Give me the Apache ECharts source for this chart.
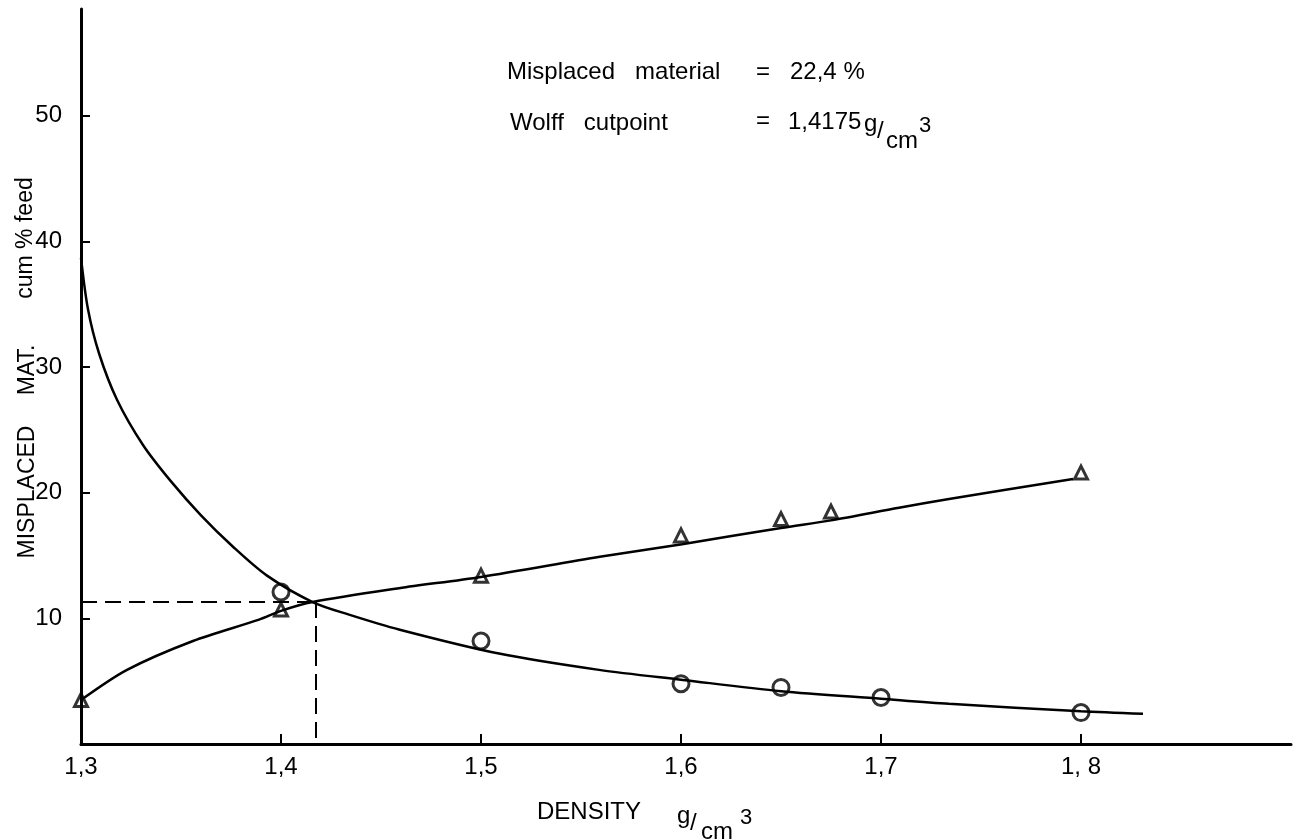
<!DOCTYPE html>
<html>
<head>
<meta charset="utf-8">
<script src="https://cdn.jsdelivr.net/npm/echarts@6/dist/echarts.min.js"></script>
<style>
  html, body { margin: 0; padding: 0; background: #fff; }
  #chart { width: 1295px; height: 839px; }
</style>
</head>
<body>
<div id="chart"></div>
<script>
// axis ticks and labels
const xTicks = [1.3, 1.4, 1.5, 1.6, 1.7, 1.8];
const xTickLabels = ['1,3', '1,4', '1,5', '1,6', '1,7', '1, 8'];
const yTicks = [10, 20, 30, 40, 50];

// measured points: circles and triangles
const circleDensity = [1.4, 1.5, 1.6, 1.65, 1.7, 1.8];
const circleValue = [12.1, 8.2, 4.8, 4.5, 3.7, 2.5];
const triangleDensity = [1.3, 1.4, 1.5, 1.6, 1.65, 1.675, 1.8];
const triangleValue = [3.5, 10.7, 13.4, 16.6, 17.9, 18.5, 21.6];

// hand-drawn curves
const fallCurveX = [1.3, 1.3035, 1.309, 1.318, 1.331, 1.345, 1.36, 1.376, 1.393, 1.4158, 1.434, 1.4594, 1.509, 1.559, 1.601, 1.65, 1.70, 1.734, 1.80, 1.831];
const fallCurveY = [38.7, 34.6, 31.1, 27.4, 23.8, 20.9, 18.2, 15.7, 13.4, 11.3, 10.3, 9.1, 7.2, 5.9, 5.1, 4.2, 3.6, 3.2, 2.6, 2.4];
const riseCurveX = [1.3, 1.323, 1.356, 1.389, 1.4, 1.4158, 1.459, 1.5, 1.5594, 1.6005, 1.65, 1.675, 1.709, 1.734, 1.796];
const riseCurveY = [3.5, 5.9, 8.2, 9.9, 10.6, 11.3, 12.4, 13.3, 14.9, 15.9, 17.2, 17.8, 18.8, 19.5, 21.1];

// Wolff cutpoint
const cutDensity = 1.4175;
const cutValue = 11.3;

const zip = (xs, ys) => xs.map((x, i) => [x, ys[i]]);
const FONT = '"Liberation Sans", Arial, sans-serif';

const chart = echarts.init(document.getElementById('chart'));

function txt(text, x, y, size, rotation) {
  return {
    type: 'text', x: x, y: y, rotation: rotation || 0,
    style: {
      text: text, font: size + 'px ' + FONT, fill: '#000',
      align: rotation ? 'center' : 'left', verticalAlign: 'middle'
    }
  };
}

const option = {
  backgroundColor: '#fff',
  animation: false,
  grid: { left: 81, right: 4, top: 9, bottom: 95 },
  xAxis: {
    type: 'value', min: 1.3, max: 1.905,
    axisLine: { show: true, lineStyle: { color: '#000', width: 3 } },
    axisTick: { show: true, inside: true, length: 10, customValues: xTicks, lineStyle: { color: '#000', width: 2 } },
    axisLabel: {
      customValues: xTicks, margin: 11, color: '#000', fontSize: 24, fontFamily: FONT,
      formatter: v => xTickLabels[xTicks.findIndex(t => Math.abs(t - v) < 1e-6)] || ''
    },
    splitLine: { show: false }
  },
  yAxis: {
    type: 'value', min: 0, max: 58.5,
    axisLine: { show: true, lineStyle: { color: '#000', width: 3 } },
    axisTick: { show: true, inside: true, length: 9, customValues: yTicks, lineStyle: { color: '#000', width: 2 } },
    axisLabel: { customValues: yTicks, margin: 19, color: '#000', fontSize: 24, fontFamily: FONT },
    splitLine: { show: false }
  },
  series: [
    {
      type: 'line', data: zip(fallCurveX, fallCurveY), smooth: 0.3,
      showSymbol: false, lineStyle: { color: '#000', width: 2.5 }
    },
    {
      type: 'line', data: zip(riseCurveX, riseCurveY), smooth: 0.3,
      showSymbol: false, lineStyle: { color: '#000', width: 2.5 }
    },
    {
      type: 'line', data: [[1.3, cutValue], [cutDensity, cutValue]], showSymbol: false,
      lineStyle: { color: '#000', width: 2, type: [16, 8] }
    },
    {
      type: 'line', data: [[cutDensity, cutValue], [cutDensity, 0]], showSymbol: false,
      lineStyle: { color: '#000', width: 2, type: [16, 8] }
    },
    {
      type: 'scatter', data: zip(circleDensity, circleValue), symbol: 'circle', symbolSize: 16,
      itemStyle: { color: 'rgba(255,255,255,0)', borderColor: '#000', borderWidth: 3 }
    },
    {
      type: 'scatter', data: zip(triangleDensity, triangleValue), symbol: 'triangle', symbolSize: 13,
      itemStyle: { color: 'rgba(255,255,255,0)', borderColor: '#000', borderWidth: 3 }
    }
  ],
  graphic: [
    txt('Misplaced   material', 507, 72, 24),
    txt('=', 756, 72, 24),
    txt('22,4 %', 790, 72, 24),
    txt('Wolff   cutpoint', 510, 123, 24),
    txt('=', 756, 121, 24),
    txt('1,4175', 788, 122, 24),
    txt('g', 864, 124, 24),
    txt('/', 877, 131, 24),
    txt('cm', 886, 141, 24),
    txt('3', 919, 126, 22),
    txt('DENSITY', 537, 812, 24),
    txt('g', 677, 816, 24),
    txt('/', 690, 823, 24),
    txt('cm', 701, 832, 24),
    txt('3', 740, 818, 22),
    txt('MISPLACED', 28, 492, 23, Math.PI / 2),
    txt('MAT.', 28, 370, 23, Math.PI / 2),
    txt('cum % feed', 26, 238, 23, Math.PI / 2)
  ]
};

chart.setOption(option);
window.addEventListener('resize', () => chart.resize());
</script>
</body>
</html>
